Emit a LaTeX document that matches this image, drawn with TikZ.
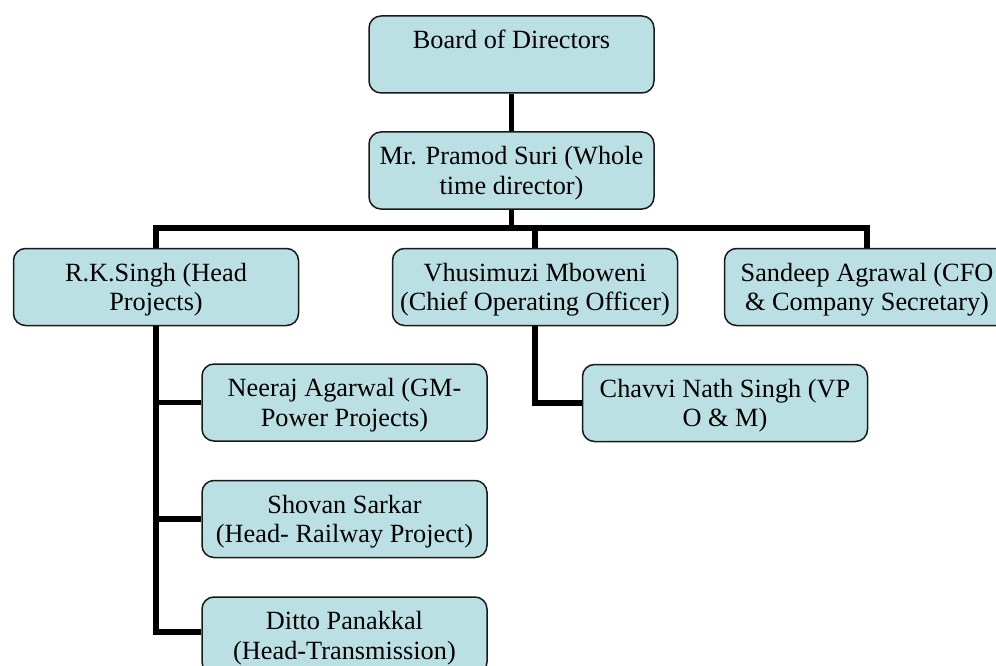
\documentclass[tikz,border=0pt]{standalone}
\usepackage{fontspec}
\setmainfont{Liberation Serif}
\definecolor{boxfill}{RGB}{186,224,228}
\definecolor{boxline}{RGB}{25,25,25}
\newcommand\tstr{\rule{0pt}{24pt}}
\newcommand\bstr{\rule[-6pt]{0pt}{6pt}}
\begin{document}
\begin{tikzpicture}[x=1pt,y=-1pt,
  orgbox/.style={draw=boxline, line width=1.5pt, fill=boxfill, rounded corners=12pt,
    minimum width=285pt, minimum height=77pt, align=center, inner sep=0pt,
    font=\fontsize{26.3}{29.5}\selectfont},
  link/.style={line width=5.5pt, draw=black, line join=miter}]
\useasboundingbox (0,0) rectangle (996,666);
\clip (0,0) rectangle (996,666);
\coordinate (bus) at (0,228);
% nodes
\node[orgbox] (board) at (511.5,54.5) {\tstr Board of Directors\\\bstr};
\node[orgbox] (pramod) at (511.5,170.5) {\tstr Mr. Pramod Suri (Whole\\\bstr time director)};
\node[orgbox] (rk) at (156,287) {\tstr R.K.Singh (Head\\\bstr Projects)};
\node[orgbox] (vh) at (535,287) {\tstr Vhusimuzi Mboweni\\\bstr (Chief Operating Officer)};
\node[orgbox] (sandeep) at (867,287) {\tstr Sandeep Agrawal (CFO\\\bstr \& Company Secretary)};
\node[orgbox] (neeraj) at (344.5,402.5) {\tstr Neeraj Agarwal (GM-\\\bstr Power Projects)};
\node[orgbox] (chavvi) at (725,403) {\tstr Chavvi Nath Singh (VP\\\bstr O \& M)};
\node[orgbox] (shovan) at (344.5,519) {\tstr Shovan Sarkar\\\bstr (Head- Railway Project)};
\node[orgbox] (ditto) at (344.5,635.5) {\tstr Ditto Panakkal\\\bstr (Head-Transmission)};
% connectors
\draw[link] (board.south) -- (pramod.north);
\draw[link] (pramod.south) -- (pramod.south |- bus);
\draw[link] (rk.north) |- (sandeep.north |- bus) -- (sandeep.north);
\draw[link] (vh.north) -- (vh.north |- bus);
\draw[link] (rk.south) |- ([yshift=3.5pt]ditto.west);
\draw[link] (rk.south |- neeraj.west) -- (neeraj.west);
\draw[link] (rk.south |- shovan.west) -- (shovan.west);
\draw[link] (vh.south) |- (chavvi.west);
\end{tikzpicture}
\end{document}
